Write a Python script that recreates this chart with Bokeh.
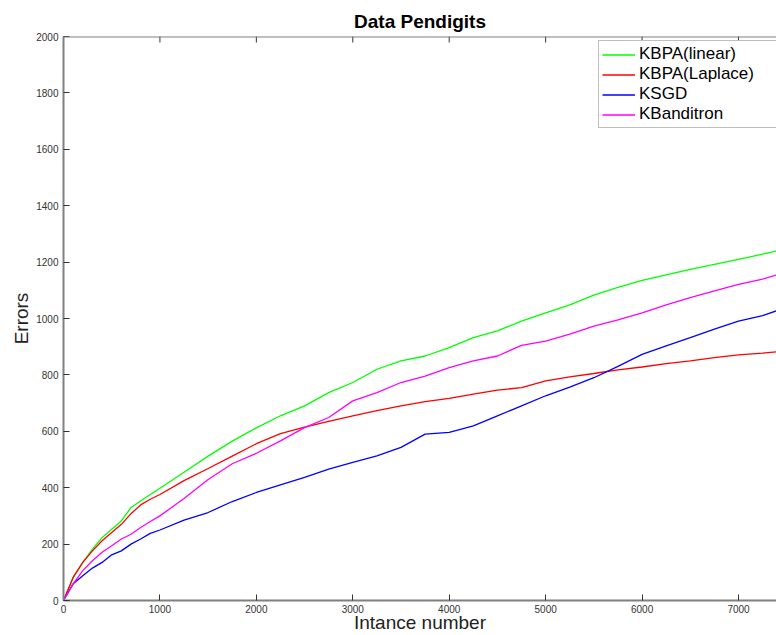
import math
from bokeh.plotting import figure
from bokeh.models import FixedTicker, Legend, LegendItem, Range1d, Span
from bokeh.embed import file_html
from bokeh.resources import INLINE

# Instance numbers at which errors were read
instances = [0, 100, 200, 300, 400, 500, 600, 700, 800, 900, 1000, 1250, 1500, 1750,
             2000, 2250, 2500, 2750, 3000, 3250, 3500, 3750, 4000, 4250, 4500, 4750,
             5000, 5250, 5500, 5750, 6000, 6250, 6500, 6750, 7000, 7250, 7400]

kbpa_linear = [0, 82, 135, 182, 223, 253, 282, 330, 353, 376, 398, 455, 512, 565,
               612, 655, 690, 737, 773, 820, 850, 867, 897, 932, 956, 991,
               1020, 1048, 1083, 1110, 1135, 1155, 1174, 1192, 1210, 1228, 1240]

kbpa_laplace = [0, 82, 135, 176, 212, 241, 270, 308, 339, 359, 376, 425, 468, 512,
                556, 592, 615, 635, 655, 673, 690, 705, 717, 732, 746, 755,
                779, 793, 805, 818, 828, 840, 850, 861, 871, 877, 882]

ksgd = [0, 59, 88, 115, 135, 162, 176, 200, 218, 238, 250, 285, 312, 351,
        383, 410, 437, 466, 490, 513, 543, 590, 596, 619, 655, 690,
        726, 757, 790, 830, 873, 903, 932, 962, 991, 1010, 1028]

kbanditron = [0, 59, 106, 141, 171, 194, 218, 235, 259, 280, 300, 362, 429, 485,
              522, 566, 613, 649, 708, 737, 773, 796, 826, 850, 867, 905,
              920, 945, 973, 995, 1020, 1048, 1074, 1098, 1121, 1140, 1155]

series_names = ["KBPA(linear)", "KBPA(Laplace)", "KSGD", "KBanditron"]
series_colors = ["#00ff00", "#ff0000", "#0000ff", "#ff00ff"]

x_ticks = [0, 1000, 2000, 3000, 4000, 5000, 6000, 7000]
y_ticks = [0, 200, 400, 600, 800, 1000, 1200, 1400, 1600, 1800, 2000]

FONT = "Liberation Sans"

p = figure(width=776, height=635, output_backend="svg", toolbar_location=None,
           x_range=Range1d(0, 7394), y_range=Range1d(y_ticks[0], y_ticks[-1]),
           min_border_left=63, min_border_right=0, min_border_top=36, min_border_bottom=35,
           title="Data Pendigits")
p.outline_line_color = None
p.grid.visible = False
p.background_fill_color = "white"
p.border_fill_color = "white"

p.title.align = "center"
p.title.text_font = FONT
p.title.text_font_size = "19px"
p.title.text_font_style = "bold"
p.title.text_color = "black"
p.title.standoff = 9

def style_axis(ax):
    ax.axis_line_color = "#808080"
    ax.axis_line_width = 2
    ax.major_tick_in = 6
    ax.major_tick_out = 0
    ax.minor_tick_line_color = None
    ax.major_tick_line_color = "#333333"
    ax.major_label_text_font = FONT
    ax.major_label_text_font_size = "10px"
    ax.major_label_text_color = "#333333"
    ax.axis_label_text_font = FONT
    ax.axis_label_text_font_size = "19px"
    ax.axis_label_text_font_style = "normal"
    ax.axis_label_text_color = "#222222"

xa = p.xaxis[0]
xa.ticker = FixedTicker(ticks=x_ticks)
style_axis(xa)
xa.axis_label = "Intance number"
xa.major_label_standoff = 4
xa.axis_label_standoff = -4

ya = p.yaxis[0]
ya.ticker = FixedTicker(ticks=y_ticks)
style_axis(ya)
ya.axis_label = "Errors"
ya.major_label_standoff = 5
ya.axis_label_standoff = 1

# top border of the axes box with inward ticks
p.add_layout(Span(location=y_ticks[-1], dimension="width",
                  line_color="#808080", line_width=2))
p.scatter(x=x_ticks, y=[y_ticks[-1]] * len(x_ticks), marker="dash",
          angle=math.pi / 2, size=12, line_color="#333333", line_width=1)

items = []
for name, col, ys in zip(series_names, series_colors,
                         [kbpa_linear, kbpa_laplace, ksgd, kbanditron]):
    r = p.line(instances, ys, line_color=col, line_width=1.3)
    items.append(LegendItem(label=name, renderers=[r]))

leg = Legend(items=items, location=(535, 472))
leg.label_text_font = FONT
leg.label_text_font_size = "17px"
leg.label_text_color = "black"
leg.glyph_width = 33
leg.glyph_height = 17
leg.label_height = 17
leg.label_width = 134
leg.label_standoff = 4
leg.spacing = 0
leg.padding = 3
leg.margin = 0
leg.border_line_color = "#808080"
leg.border_line_width = 1.5
leg.background_fill_color = "white"
leg.background_fill_alpha = 1
p.add_layout(leg, "center")

open("out.html", "w").write(file_html(p, INLINE))
